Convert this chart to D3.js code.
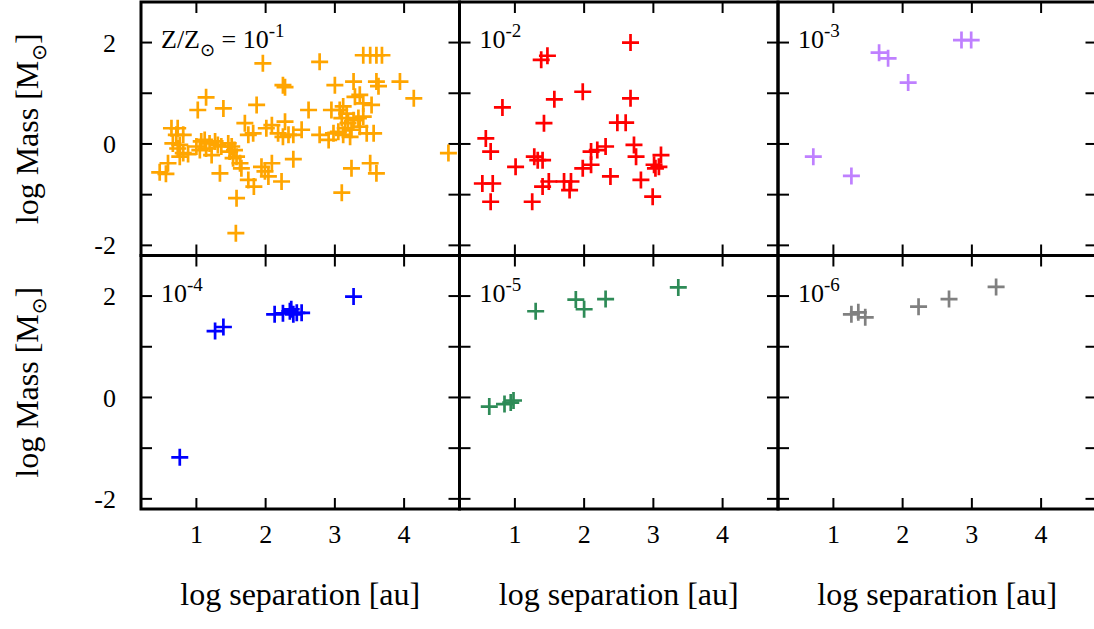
<!DOCTYPE html>
<html>
<head>
<meta charset="utf-8">
<script src="https://cdn.jsdelivr.net/npm/d3@7"></script>
<style>
  html, body { margin: 0; padding: 0; background: #fff; }
  svg { display: block; }
  text { font-family: "Liberation Serif", "DejaVu Serif", serif; fill: #000; }
</style>
</head>
<body>
<svg id="chart" width="1094" height="629"></svg>
<script>
// ---- data: [log separation (au), log mass (Msun)] ----
const metalLabels = ["-1", "-2", "-3", "-4", "-5", "-6"];
const colors = ["#FFA500", "#FF0000", "#BF80FF", "#0000FF", "#2E8B57", "#808080"];

const seriesZ1 = [
  [0.47,-0.56],[0.56,-0.59],[0.59,-0.38],[0.64,0.31],[0.73,0.31],[0.71,0.18],[0.81,0.18],
  [0.66,0.01],[0.76,-0.02],[0.73,-0.09],[0.81,-0.18],[0.76,-0.25],[0.88,-0.20],
  [1.02,0.67],[1.14,0.92],[1.00,-0.05],[1.07,0.05],[1.12,0.08],[1.19,0.01],[1.05,-0.12],
  [1.14,-0.09],[1.27,0.05],[1.22,-0.22],[1.34,-0.58],[1.39,0.70],[1.31,-0.02],[1.36,-0.05],
  [1.46,0.01],[1.51,-0.05],[1.48,-0.15],[1.55,-0.12],[1.58,-0.25],[1.53,-0.28],[1.63,-0.38],
  [1.65,-0.48],[1.58,-1.07],[1.57,-1.76],[1.70,0.41],[1.75,0.18],[1.82,0.21],[1.75,-0.71],
  [1.83,-0.84],[1.87,0.77],[1.96,1.59],[1.94,-0.45],[1.99,-0.54],[2.04,-0.64],[2.09,-0.38],
  [2.01,0.31],[2.09,0.37],[2.18,0.21],[2.28,0.44],[2.25,1.16],[2.28,1.12],[2.23,-0.74],
  [2.25,0.14],[2.33,0.18],[2.40,0.18],[2.40,-0.30],[2.52,0.28],[2.62,0.67],[2.78,1.62],
  [2.78,0.18],[2.91,0.08],[2.98,0.21],[3.05,0.24],[3.00,1.16],[2.95,0.67],[3.07,0.67],
  [3.12,0.74],[3.17,0.60],[3.10,0.51],[3.19,0.41],[3.27,0.47],[3.34,0.51],[3.41,0.54],
  [3.15,0.31],[3.24,0.28],[3.36,0.34],[3.29,0.93],[3.36,0.97],[3.41,0.80],[3.27,1.23],
  [3.12,0.18],[3.22,0.14],[3.46,0.21],[3.56,0.21],[3.53,0.77],[3.10,-0.96],[3.24,-0.48],
  [3.51,-0.38],[3.60,-0.58],[3.41,1.75],[3.51,1.75],[3.60,1.75],[3.68,1.75],[3.60,1.23],
  [3.63,1.14],[3.94,1.23],[4.14,0.90],[4.64,-0.18]
];
const seriesZ2 = [
  [0.58,0.11],[0.65,-0.15],[0.53,-0.78],[0.68,-0.78],[0.65,-1.14],[0.82,0.72],[1.01,-0.45],
  [1.25,-1.14],[1.28,-0.25],[1.33,-0.32],[1.40,-0.32],[1.38,1.66],[1.47,1.74],[1.42,0.41],
  [1.57,0.88],[1.40,-0.84],[1.49,-0.74],[1.71,-0.74],[1.81,-0.74],[1.79,-0.91],[1.98,1.03],
  [1.98,-0.48],[2.10,-0.41],[2.10,-0.15],[2.19,-0.12],[2.31,-0.05],[2.38,-0.64],[2.48,0.42],
  [2.60,0.42],[2.67,2.00],[2.67,0.90],[2.72,-0.02],[2.75,-0.25],[2.82,-0.71],[2.99,-1.04],
  [3.01,-0.41],[3.08,-0.45],[3.11,-0.22],[3.03,-0.48]
];
const seriesZ3 = [
  [0.71,-0.25],[1.26,-0.63],[1.66,1.80],[1.79,1.69],[2.08,1.21],[2.85,2.05],[2.99,2.05]
];
const seriesZ4 = [
  [0.76,-1.18],[1.27,1.31],[1.39,1.39],[2.13,1.64],[2.25,1.66],[2.35,1.70],[2.40,1.64],
  [2.45,1.67],[2.52,1.67],[2.37,1.74],[3.27,1.99]
];
const seriesZ5 = [
  [0.63,-0.18],[0.85,-0.13],[0.94,-0.10],[0.98,-0.06],[1.30,1.70],[1.88,1.93],[2.00,1.74],
  [2.31,1.94],[3.36,2.17]
];
const seriesZ6 = [
  [1.26,1.64],[1.36,1.68],[1.46,1.58],[2.23,1.79],[2.67,1.94],[3.35,2.18]
];
const allSeries = [seriesZ1, seriesZ2, seriesZ3, seriesZ4, seriesZ5, seriesZ6];

const xTicks = [1, 2, 3, 4];
const yTicks = [-2, -1, 0, 1, 2];
const yTickLabels = [-2, 0, 2];
const xDomain = [0.2, 4.8];
const yDomain = [-2.2, 2.8];

// ---- layout ----
const svg = d3.select("#chart");
const left0 = 141, top0 = 2;
const pw = 318.5, ph = 253.5;
const tickLen = 11;

const x = d3.scaleLinear().domain(xDomain).range([0, pw]);
const y = d3.scaleLinear().domain(yDomain).range([ph, 0]);

const crossPath = "M-8.5,0H8.5M0,-8.5V8.5";

allSeries.forEach((data, i) => {
  const col = i % 3, row = Math.floor(i / 3);
  const g = svg.append("g")
    .attr("transform", `translate(${left0 + col * pw},${top0 + row * ph})`);

  // ticks (inward on all four sides)
  const tg = g.append("g").attr("stroke", "#000").attr("stroke-width", 2);
  xTicks.forEach(t => {
    tg.append("line").attr("x1", x(t)).attr("x2", x(t)).attr("y1", 0).attr("y2", tickLen);
    tg.append("line").attr("x1", x(t)).attr("x2", x(t)).attr("y1", ph).attr("y2", ph - tickLen);
  });
  yTicks.forEach(t => {
    tg.append("line").attr("x1", 0).attr("x2", tickLen).attr("y1", y(t)).attr("y2", y(t));
    tg.append("line").attr("x1", pw).attr("x2", pw - tickLen).attr("y1", y(t)).attr("y2", y(t));
  });

  // points
  g.append("g").selectAll("path").data(data).join("path")
    .attr("d", crossPath)
    .attr("transform", d => `translate(${x(d[0])},${y(d[1])})`)
    .attr("fill", "none")
    .attr("stroke", colors[i])
    .attr("stroke-width", 2.7);

  // frame
  g.append("rect").attr("x", 0).attr("y", 0).attr("width", pw).attr("height", ph)
    .attr("fill", "none").attr("stroke", "#000").attr("stroke-width", 3);

  // panel label
  const lab = g.append("text").attr("x", 20).attr("y", 46).attr("font-size", 26);
  if (i === 0) {
    lab.append("tspan").text("Z/Z");
    lab.append("tspan").attr("font-size", 18).attr("dy", 8).attr("font-family", "DejaVu Sans").text("\u2299");
    lab.append("tspan").attr("dy", -8).text(" = 10");
  } else {
    lab.append("tspan").text("10");
  }
  lab.append("tspan").attr("font-size", 19).attr("dy", -11).text(metalLabels[i]);

  // y tick labels on the first column
  if (col === 0) {
    yTickLabels.forEach(t => {
      g.append("text").attr("x", -25).attr("y", y(t)).attr("dy", "0.35em")
        .attr("text-anchor", "end").attr("font-size", 26).text(t);
    });
    const yt = g.append("text")
      .attr("transform", `translate(${38 - left0},${ph / 2}) rotate(-90)`)
      .attr("text-anchor", "middle").attr("font-size", 32);
    yt.append("tspan").text("log Mass [M");
    yt.append("tspan").attr("font-size", 20).attr("dy", 8).attr("font-family", "DejaVu Sans").text("\u2299");
    yt.append("tspan").attr("dy", -8).text("]");
  }
  // x tick labels on bottom row
  if (row === 1) {
    xTicks.forEach(t => {
      g.append("text").attr("x", x(t)).attr("y", ph + 34)
        .attr("text-anchor", "middle").attr("font-size", 26).text(t);
    });
    g.append("text").attr("x", pw / 2).attr("y", ph + 96)
      .attr("text-anchor", "middle").attr("font-size", 32).text("log separation [au]");
  }
});
</script>
</body>
</html>
